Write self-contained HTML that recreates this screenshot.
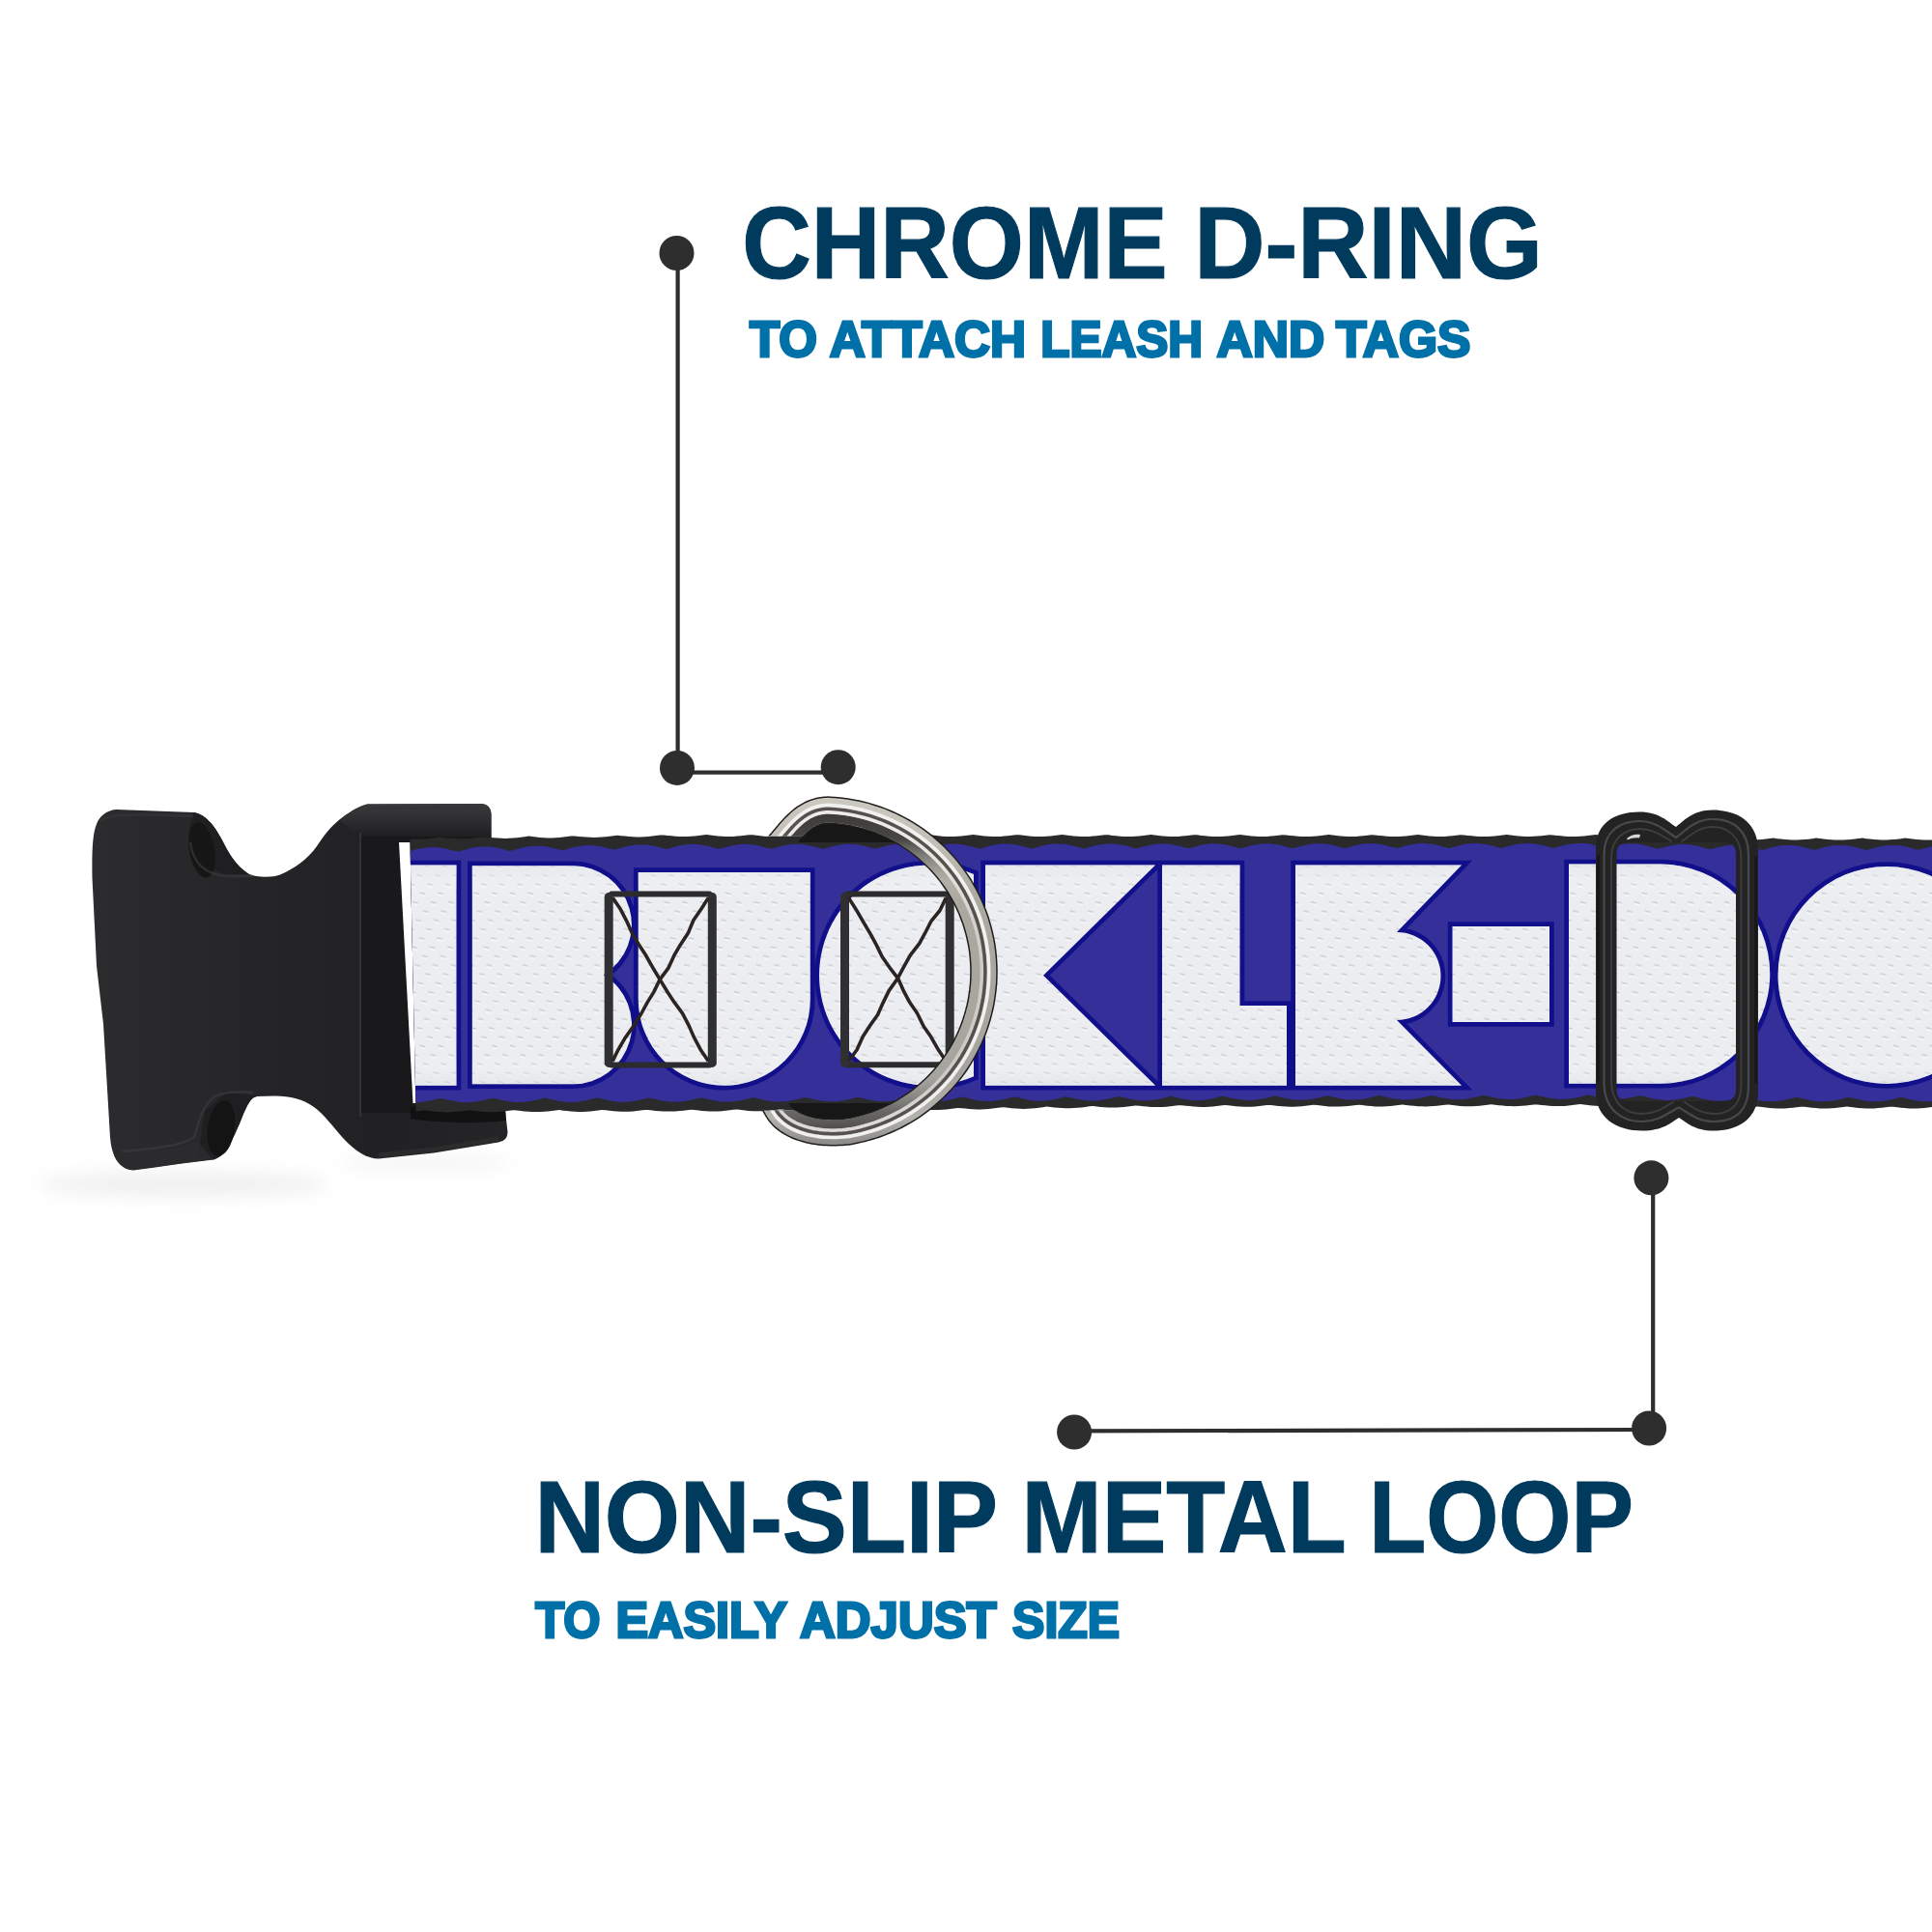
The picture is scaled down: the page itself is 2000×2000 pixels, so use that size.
<!DOCTYPE html>
<html><head><meta charset="utf-8"><title>Collar features</title>
<style>
html,body{margin:0;padding:0;background:#fff;}
body{width:2000px;height:2000px;overflow:hidden;font-family:"Liberation Sans",sans-serif;}
svg{display:block}
text{font-family:"Liberation Sans",sans-serif;font-weight:bold;}
</style></head><body>
<svg width="2000" height="2000" viewBox="0 0 2000 2000">
<defs>
<pattern id="tex" width="18.6" height="18.6" patternUnits="userSpaceOnUse" patternTransform="skewX(10)">
<rect width="18.6" height="18.6" fill="#ebedf0"/>
<path d="M2,3.5 l5.5,1.3 M11.3,12.8 l5.5,1.3" stroke="#c6c8cd" stroke-width="1.3" fill="none"/>
<path d="M2,5.8 l5.5,1.3 M11.3,15.1 l5.5,1.3" stroke="#f6f7f9" stroke-width="1.6" fill="none"/>
</pattern>
<clipPath id="lettersclip"><path d="M415,895.5 H472.5 V1123.8 H415 Z M488.8,896.2 H593 A61.0,61.0 0 0 1 624.8,1009.2 A61.0,61.0 0 0 1 593,1122.3 H488.8 Z M660.7,903 H838.8 V1034.8 A89,89 0 0 1 660.7,1034.8 Z M1008,905.1 A114.14999999999998,114.14999999999998 0 1 0 1008,1114.2 Z M1020,895.5 H1196 L1080,1009.65 L1196,1123.8 H1020 Z M1203,895.5 H1283.5 V1041 H1332 V1123.8 H1203 Z M1341,895.5 H1513 L1446,965 A45.5,45.5 0 0 1 1446,1056 L1513,1123.8 H1341 Z M1503.5,959 H1604 V1058 H1503.5 Z M1624,894.5 H1718.7 A113.64999999999998,113.64999999999998 0 0 1 1718.7,1121.8 H1624 Z M1953,897.0 A112.5,112.5 0 1 0 1953,1122.0 A112.5,112.5 0 1 0 1953,897.0 Z"/></clipPath>
<clipPath id="strapleft"><path d="M424,850 L2000,850 L2000,1170 L431,1170 Z"/></clipPath>
<clipPath id="ringclip"><path d="M700,700 H1100 V1300 H700 V1149.5 H868 V865.5 H700 Z"/></clipPath>
<linearGradient id="fabshade" x1="0" y1="0" x2="0" y2="1">
<stop offset="0" stop-color="#dfe3e8" stop-opacity=".55"/><stop offset=".15" stop-color="#fff" stop-opacity="0"/>
<stop offset=".85" stop-color="#fff" stop-opacity="0"/><stop offset="1" stop-color="#d8dce2" stop-opacity=".5"/>
</linearGradient>
<linearGradient id="ringg" gradientUnits="userSpaceOnUse" x1="0" y1="826" x2="0" y2="1186">
<stop offset="0" stop-color="#ccc9c0"/><stop offset=".14" stop-color="#c0bdb4"/><stop offset=".3" stop-color="#aba8a0"/>
<stop offset=".8" stop-color="#a6a49e"/><stop offset=".92" stop-color="#b4b2ad"/><stop offset="1" stop-color="#8a8885"/>
</linearGradient>
<linearGradient id="ringin" gradientUnits="userSpaceOnUse" x1="0" y1="826" x2="0" y2="1186">
<stop offset="0" stop-color="#2e2d2c" stop-opacity=".95"/><stop offset=".12" stop-color="#3a3938" stop-opacity=".9"/><stop offset=".24" stop-color="#6a6865" stop-opacity="0"/>
<stop offset=".8" stop-color="#6a6865" stop-opacity="0"/><stop offset=".9" stop-color="#4a4947" stop-opacity=".7"/><stop offset="1" stop-color="#2e2d2c" stop-opacity=".9"/>
</linearGradient>
<linearGradient id="ringl" gradientUnits="userSpaceOnUse" x1="0" y1="826" x2="0" y2="1186">
<stop offset="0" stop-color="#efeeea"/><stop offset=".2" stop-color="#e4e3df"/><stop offset=".4" stop-color="#cfcdc8"/>
<stop offset=".8" stop-color="#cccac6"/><stop offset="1" stop-color="#e2e1de"/>
</linearGradient>
<filter id="blur6" x="-20%" y="-80%" width="140%" height="260%"><feGaussianBlur stdDeviation="9"/></filter>
<filter id="blur3" x="-20%" y="-20%" width="140%" height="140%"><feGaussianBlur stdDeviation="3"/></filter>
<linearGradient id="topbar" x1="0" y1="0" x2="0" y2="1">
<stop offset="0" stop-color="#3a3a3c"/><stop offset=".5" stop-color="#2e2e30"/><stop offset="1" stop-color="#1f1f21"/>
</linearGradient>
<linearGradient id="bk" x1="0" y1="0" x2="1" y2="0">
<stop offset="0" stop-color="#2c2c2e"/><stop offset=".35" stop-color="#262628"/><stop offset=".7" stop-color="#212123"/><stop offset="1" stop-color="#252527"/>
</linearGradient>
</defs>
<rect width="2000" height="2000" fill="#fff"/>

<!-- headings -->
<text x="768.3" y="288.4" font-size="105.0" fill="#003a5d" stroke="#003a5d" stroke-width="1.2" stroke-linejoin="miter" stroke-miterlimit="2.5" textLength="440.15" lengthAdjust="spacingAndGlyphs">CHROME</text>
<text x="1236.2" y="288.4" font-size="105.0" fill="#003a5d" stroke="#003a5d" stroke-width="1.2" stroke-linejoin="miter" stroke-miterlimit="2.5" textLength="360.64" lengthAdjust="spacingAndGlyphs">D-RING</text>
<text x="776.0" y="369.0" font-size="51.4" fill="#0070a8" stroke="#0070a8" stroke-width="2.8" stroke-linejoin="miter" stroke-miterlimit="2.5" textLength="70.03" lengthAdjust="spacingAndGlyphs">TO</text>
<text x="858.8" y="369.0" font-size="51.4" fill="#0070a8" stroke="#0070a8" stroke-width="2.8" stroke-linejoin="miter" stroke-miterlimit="2.5" textLength="203.2" lengthAdjust="spacingAndGlyphs">ATTACH</text>
<text x="1077.2" y="369.0" font-size="51.4" fill="#0070a8" stroke="#0070a8" stroke-width="2.8" stroke-linejoin="miter" stroke-miterlimit="2.5" textLength="167.92" lengthAdjust="spacingAndGlyphs">LEASH</text>
<text x="1259.6" y="369.0" font-size="51.4" fill="#0070a8" stroke="#0070a8" stroke-width="2.8" stroke-linejoin="miter" stroke-miterlimit="2.5" textLength="111.76" lengthAdjust="spacingAndGlyphs">AND</text>
<text x="1383.0" y="369.0" font-size="51.4" fill="#0070a8" stroke="#0070a8" stroke-width="2.8" stroke-linejoin="miter" stroke-miterlimit="2.5" textLength="139.36" lengthAdjust="spacingAndGlyphs">TAGS</text>
<text x="553.4" y="1607.1" font-size="105.0" fill="#003a5d" stroke="#003a5d" stroke-width="1.2" stroke-linejoin="miter" stroke-miterlimit="2.5" textLength="479.45" lengthAdjust="spacingAndGlyphs">NON-SLIP</text>
<text x="1057.5" y="1607.1" font-size="105.0" fill="#003a5d" stroke="#003a5d" stroke-width="1.2" stroke-linejoin="miter" stroke-miterlimit="2.5" textLength="336.32" lengthAdjust="spacingAndGlyphs">METAL</text>
<text x="1417.2" y="1607.1" font-size="105.0" fill="#003a5d" stroke="#003a5d" stroke-width="1.2" stroke-linejoin="miter" stroke-miterlimit="2.5" textLength="273.75" lengthAdjust="spacingAndGlyphs">LOOP</text>
<text x="554.2" y="1694.8" font-size="51.4" fill="#0070a8" stroke="#0070a8" stroke-width="2.8" stroke-linejoin="miter" stroke-miterlimit="2.5" textLength="67.34" lengthAdjust="spacingAndGlyphs">TO</text>
<text x="637.4" y="1694.8" font-size="51.4" fill="#0070a8" stroke="#0070a8" stroke-width="2.8" stroke-linejoin="miter" stroke-miterlimit="2.5" textLength="177.42" lengthAdjust="spacingAndGlyphs">EASILY</text>
<text x="828.1" y="1694.8" font-size="51.4" fill="#0070a8" stroke="#0070a8" stroke-width="2.8" stroke-linejoin="miter" stroke-miterlimit="2.5" textLength="203.57" lengthAdjust="spacingAndGlyphs">ADJUST</text>
<text x="1048.1" y="1694.8" font-size="51.4" fill="#0070a8" stroke="#0070a8" stroke-width="2.8" stroke-linejoin="miter" stroke-miterlimit="2.5" textLength="110.95" lengthAdjust="spacingAndGlyphs">SIZE</text>

<!-- callout lines -->
<g fill="#2e2e2e" stroke="#2e2e2e" stroke-width="4.2">
<path d="M701.6,262 V795 M701,799.6 H868" fill="none"/>
<circle cx="700.5" cy="262" r="18" stroke="none"/>
<circle cx="701" cy="794.9" r="18" stroke="none"/>
<circle cx="867.7" cy="794.2" r="18" stroke="none"/>
<path d="M1711.2,1219 V1478 M1707,1480 L1112,1481.4" fill="none"/>
<circle cx="1709.4" cy="1219.3" r="18" stroke="none"/>
<circle cx="1707.1" cy="1478.5" r="18" stroke="none"/>
<circle cx="1112.1" cy="1482.5" r="18" stroke="none"/>
</g>

<!-- soft shadow under buckle -->
<ellipse cx="190" cy="1226" rx="150" ry="13" fill="#8a8a8a" opacity=".13" filter="url(#blur6)"/>
<ellipse cx="440" cy="1204" rx="90" ry="7" fill="#8a8a8a" opacity=".10" filter="url(#blur6)"/>

<!-- buckle -->
<g id="buckle">
<path d="M120,838 L201,841 C213,843 222,855 229,868 C238,886 246,898 258,905 C266,908.5 282,908.5 290,905.5 C305,899 318,890 328,876 C340,858 352,843 380,832.5 L497,832 Q508.5,832 508.5,844 L508.5,870 L523,1150 L525.5,1172 Q525.5,1181 516,1182.5 L449,1193.5 L392,1199.5 C380,1199.5 368,1192 355,1178 C346,1168 335,1153 325,1146 C314,1138 300,1134.5 285,1134.5 L266,1135 C260,1136 257,1142 252,1153 C247,1166 240,1182 234,1190 C230,1196 226,1199 221,1200.5 L188,1204.5 L157,1209 L138,1211.5 C128,1211.5 120,1203 117,1193 C115,1187 114,1180 113.5,1169 L107,1060 L100,1000 L95.5,909 C95,880 96,862 100,853 C103,845 110,839 120,838 Z" fill="url(#bk)"/>
<path d="M380,832.5 L497,832 Q508.5,832 508.5,844 L508.5,866 L373,866 L352,850 C360,841 370,835 380,832.5 Z" fill="url(#topbar)"/>
<!-- recessed inner face of frame -->
<path d="M373,866 L508.5,866 L523,1152 L373,1152 Z" fill="#19191b"/>
<path d="M373,862 V1156" stroke="#38383a" stroke-width="2" fill="none" opacity=".8"/>
<path d="M413,872 L424.5,872 L430.5,1142 L427.5,1142 Z" fill="#fff"/>
<!-- shadow of strap on bottom bar -->
<path d="M425,1146 H523 L524,1160 C490,1164 450,1162 425,1158 Z" fill="#0e0e0f" opacity=".8"/>
<!-- top notch hole and wall -->
<path d="M201,841 C213,843 222,855 229,868 C238,886 246,898 258,905 L236,905 C214,903 198,880 196,856 Z" fill="#1f1f21"/>
<ellipse cx="209" cy="880" rx="13" ry="29" transform="rotate(-10 209 880)" fill="#161617"/>
<path d="M197,872 C199,892 212,906 236,907 L262,907" stroke="#39393b" stroke-width="2.5" fill="none" opacity=".7"/>
<!-- bottom notch hole -->
<path d="M266,1135 C260,1136 257,1142 252,1153 C247,1166 240,1182 234,1190 C230,1196 226,1199 221,1200.5 L205,1196 L212,1150 L235,1131 Z" fill="#1f1f21"/>
<ellipse cx="229" cy="1168" rx="14" ry="29" transform="rotate(8 229 1168)" fill="#141415"/>
<path d="M126,1192 C160,1189 190,1186 201,1177 C206,1160 210,1144 222,1135 C232,1130 250,1130 262,1131" stroke="#3a3a3c" stroke-width="2.5" fill="none" opacity=".75"/>
<!-- light faces -->
<path d="M126,1194 C160,1191 190,1188 203,1180 L221,1200 L138,1211 C128,1211 120,1203 118,1195 Z" fill="#2c2c2e" opacity=".8"/>
<path d="M104,850 C110,842 150,842 200,845" stroke="#353537" stroke-width="3" fill="none" opacity=".7"/>
<path d="M384,836.5 L498,836" stroke="#333335" stroke-width="3" fill="none" opacity=".7"/>
<path d="M392,1196 L449,1190 L516,1179" stroke="#2e2e30" stroke-width="5" fill="none" opacity=".8"/>
</g>

<!-- strap -->
<g clip-path="url(#strapleft)">
<path d="M415.0,867.8 L419.0,868.2 L423.0,868.6 L427.0,868.8 L431.0,868.8 L435.0,868.7 L439.0,868.5 L443.0,868.2 L447.0,867.7 L451.0,867.2 L455.0,866.6 L459.0,867.1 L463.0,867.5 L467.0,867.9 L471.0,868.2 L475.0,868.3 L479.0,868.3 L483.0,868.2 L487.0,867.9 L491.0,867.5 L495.1,866.9 L499.1,866.4 L503.1,866.4 L507.1,866.8 L511.1,867.3 L515.1,867.6 L519.1,867.8 L523.1,867.9 L527.1,867.8 L531.1,867.5 L535.1,867.2 L539.1,866.7 L543.1,866.2 L547.1,865.6 L551.1,866.1 L555.1,866.6 L559.1,867.0 L563.1,867.2 L567.1,867.4 L571.1,867.4 L575.1,867.2 L579.1,866.9 L583.1,866.5 L587.1,866.0 L591.1,865.4 L595.1,865.4 L599.1,865.9 L603.1,866.3 L607.1,866.6 L611.1,866.8 L615.1,866.9 L619.1,866.8 L623.1,866.6 L627.1,866.2 L631.1,865.7 L635.1,865.2 L639.1,864.7 L643.1,865.2 L647.1,865.6 L651.1,866.0 L655.2,866.3 L659.2,866.4 L663.2,866.4 L667.2,866.2 L671.2,865.9 L675.2,865.5 L679.2,865.0 L683.2,864.4 L687.2,864.4 L691.2,864.9 L695.2,865.3 L699.2,865.7 L703.2,865.9 L707.2,866.0 L711.2,866.0 L715.2,865.8 L719.2,865.4 L723.2,865.0 L727.2,864.5 L731.2,864.0 L735.2,864.6 L739.2,865.1 L743.2,865.5 L747.2,865.8 L751.2,866.0 L755.2,866.0 L759.2,865.9 L763.2,865.6 L767.2,865.2 L771.2,864.8 L775.2,864.2 L779.2,864.3 L783.2,864.8 L787.2,865.3 L791.2,865.7 L795.2,865.9 L799.2,866.0 L803.2,866.0 L807.2,865.8 L811.2,865.4 L815.3,865.0 L819.3,864.5 L823.3,864.0 L827.3,864.6 L831.3,865.1 L835.3,865.5 L839.3,865.8 L843.3,866.0 L847.3,866.0 L851.3,865.9 L855.3,865.6 L859.3,865.2 L863.3,864.8 L867.3,864.2 L871.3,864.3 L875.3,864.8 L879.3,865.3 L883.3,865.7 L887.3,865.9 L891.3,866.0 L895.3,865.9 L899.3,865.8 L903.3,865.4 L907.3,865.0 L911.3,864.5 L915.3,864.0 L919.3,864.6 L923.3,865.1 L927.3,865.5 L931.3,865.8 L935.3,866.0 L939.3,866.0 L943.3,865.9 L947.3,865.6 L951.3,865.2 L955.3,864.8 L959.3,864.2 L963.3,864.3 L967.3,864.8 L971.4,865.3 L975.4,865.7 L979.4,865.9 L983.4,866.0 L987.4,865.9 L991.4,865.8 L995.4,865.4 L999.4,865.0 L1003.4,864.5 L1007.4,864.1 L1011.4,864.6 L1015.4,865.1 L1019.4,865.5 L1023.4,865.8 L1027.4,866.0 L1031.4,866.0 L1035.4,865.9 L1039.4,865.6 L1043.4,865.2 L1047.4,864.7 L1051.4,864.2 L1055.4,864.3 L1059.4,864.8 L1063.4,865.3 L1067.4,865.7 L1071.4,865.9 L1075.4,866.0 L1079.4,865.9 L1083.4,865.7 L1087.4,865.4 L1091.4,865.0 L1095.4,864.5 L1099.4,864.1 L1103.4,864.6 L1107.4,865.1 L1111.4,865.5 L1115.4,865.8 L1119.4,866.0 L1123.4,866.0 L1127.4,865.9 L1131.5,865.6 L1135.5,865.2 L1139.5,864.7 L1143.5,864.2 L1147.5,864.3 L1151.5,864.9 L1155.5,865.3 L1159.5,865.7 L1163.5,865.9 L1167.5,866.0 L1171.5,865.9 L1175.5,865.7 L1179.5,865.4 L1183.5,865.0 L1187.5,864.5 L1191.5,864.1 L1195.5,864.6 L1199.5,865.1 L1203.5,865.5 L1207.5,865.8 L1211.5,866.0 L1215.5,866.0 L1219.5,865.9 L1223.5,865.6 L1227.5,865.2 L1231.5,864.7 L1235.5,864.2 L1239.5,864.3 L1243.5,864.9 L1247.5,865.3 L1251.5,865.7 L1255.5,865.9 L1259.5,866.0 L1263.5,865.9 L1267.5,865.7 L1271.5,865.4 L1275.5,865.0 L1279.5,864.5 L1283.5,864.1 L1287.6,864.6 L1291.6,865.1 L1295.6,865.5 L1299.6,865.8 L1303.6,866.0 L1307.6,866.0 L1311.6,865.9 L1315.6,865.6 L1319.6,865.2 L1323.6,864.7 L1327.6,864.2 L1331.6,864.4 L1335.6,864.9 L1339.6,865.3 L1343.6,865.7 L1347.6,865.9 L1351.6,866.0 L1355.6,865.9 L1359.6,865.7 L1363.6,865.4 L1367.6,865.0 L1371.6,864.5 L1375.6,864.1 L1379.6,864.6 L1383.6,865.1 L1387.6,865.5 L1391.6,865.8 L1395.6,866.0 L1399.6,866.0 L1403.6,865.9 L1407.6,865.6 L1411.6,865.2 L1415.6,864.7 L1419.6,864.2 L1423.6,864.4 L1427.6,864.9 L1431.6,865.3 L1435.6,865.7 L1439.6,865.9 L1443.6,866.0 L1447.7,865.9 L1451.7,865.7 L1455.7,865.4 L1459.7,865.0 L1463.7,864.5 L1467.7,864.1 L1471.7,864.6 L1475.7,865.1 L1479.7,865.5 L1483.7,865.8 L1487.7,866.0 L1491.7,866.0 L1495.7,865.9 L1499.7,865.6 L1503.7,865.2 L1507.7,864.7 L1511.7,864.2 L1515.7,864.4 L1519.7,864.9 L1523.7,865.3 L1527.7,865.7 L1531.7,865.9 L1535.7,866.0 L1539.7,865.9 L1543.7,865.7 L1547.7,865.4 L1551.7,865.0 L1555.7,864.4 L1559.7,864.1 L1563.7,864.6 L1567.7,865.1 L1571.7,865.5 L1575.7,865.8 L1579.7,866.0 L1583.7,866.0 L1587.7,865.8 L1591.7,865.6 L1595.7,865.2 L1599.7,864.7 L1603.8,864.2 L1607.8,864.4 L1611.8,864.9 L1615.8,865.3 L1619.8,865.7 L1623.8,865.9 L1627.8,866.0 L1631.8,865.9 L1635.8,865.7 L1639.8,865.4 L1643.8,864.9 L1647.8,864.4 L1651.8,864.1 L1655.8,864.7 L1659.8,865.2 L1663.8,865.7 L1667.8,866.0 L1671.8,866.2 L1675.8,866.3 L1679.8,866.2 L1683.8,866.0 L1687.8,865.6 L1691.8,865.2 L1695.8,864.7 L1699.8,865.0 L1703.8,865.5 L1707.8,866.0 L1711.8,866.4 L1715.8,866.7 L1719.8,866.8 L1723.8,866.8 L1727.8,866.6 L1731.8,866.3 L1735.8,866.0 L1739.8,865.6 L1743.8,865.4 L1747.8,866.0 L1751.8,866.6 L1755.8,867.2 L1759.8,867.6 L1763.9,867.8 L1767.9,868.0 L1771.9,867.9 L1775.9,867.8 L1779.9,867.5 L1783.9,867.1 L1787.9,866.7 L1791.9,867.1 L1795.9,867.7 L1799.9,868.3 L1803.9,868.7 L1807.9,869.1 L1811.9,869.3 L1815.9,869.3 L1819.9,869.2 L1823.9,868.9 L1827.9,868.4 L1831.9,867.9 L1835.9,867.6 L1839.9,868.2 L1843.9,868.6 L1847.9,869.0 L1851.9,869.3 L1855.9,869.5 L1859.9,869.5 L1863.9,869.3 L1867.9,869.1 L1871.9,868.7 L1875.9,868.2 L1879.9,867.6 L1883.9,867.9 L1887.9,868.4 L1891.9,868.9 L1895.9,869.2 L1899.9,869.4 L1903.9,869.5 L1907.9,869.4 L1911.9,869.2 L1915.9,868.9 L1919.9,868.4 L1924.0,867.9 L1928.0,867.6 L1932.0,868.2 L1936.0,868.6 L1940.0,869.0 L1944.0,869.3 L1948.0,869.5 L1952.0,869.5 L1956.0,869.3 L1960.0,869.1 L1964.0,868.7 L1968.0,868.2 L1972.0,867.6 L1976.0,867.9 L1980.0,868.4 L1984.0,868.9 L1988.0,869.2 L1992.0,869.4 L1996.0,869.5 L2000.0,869.4 L2000.0,1146.0 L1996.0,1146.5 L1992.0,1147.0 L1988.0,1147.3 L1984.0,1147.5 L1980.0,1147.5 L1976.0,1147.4 L1972.0,1147.1 L1968.0,1146.8 L1964.0,1146.3 L1960.0,1145.8 L1956.0,1145.8 L1952.0,1146.3 L1948.0,1146.8 L1944.0,1147.1 L1940.0,1147.4 L1936.0,1147.5 L1932.0,1147.5 L1928.0,1147.3 L1924.0,1147.0 L1919.9,1146.5 L1915.9,1146.0 L1911.9,1145.5 L1907.9,1146.0 L1903.9,1146.5 L1899.9,1147.0 L1895.9,1147.3 L1891.9,1147.5 L1887.9,1147.5 L1883.9,1147.4 L1879.9,1147.1 L1875.9,1146.8 L1871.9,1146.3 L1867.9,1145.8 L1863.9,1145.8 L1859.9,1146.3 L1855.9,1146.8 L1851.9,1147.1 L1847.9,1147.4 L1843.9,1147.5 L1839.9,1147.5 L1835.9,1147.3 L1831.9,1147.0 L1827.9,1146.5 L1823.9,1146.0 L1819.9,1145.5 L1815.9,1146.0 L1811.9,1146.4 L1807.9,1146.8 L1803.9,1147.0 L1799.9,1147.2 L1795.9,1147.1 L1791.9,1147.0 L1787.9,1146.7 L1783.9,1146.2 L1779.9,1145.7 L1775.9,1145.1 L1771.9,1145.1 L1767.9,1145.5 L1763.9,1146.0 L1759.8,1146.3 L1755.8,1146.4 L1751.8,1146.5 L1747.8,1146.4 L1743.8,1146.1 L1739.8,1145.8 L1735.8,1145.3 L1731.8,1144.7 L1727.8,1144.2 L1723.8,1144.6 L1719.8,1145.1 L1715.8,1145.4 L1711.8,1145.7 L1707.8,1145.8 L1703.8,1145.8 L1699.8,1145.6 L1695.8,1145.3 L1691.8,1144.9 L1687.8,1144.3 L1683.8,1143.7 L1679.8,1143.7 L1675.8,1144.2 L1671.8,1144.6 L1667.8,1144.9 L1663.8,1145.1 L1659.8,1145.1 L1655.8,1145.0 L1651.8,1144.8 L1647.8,1144.4 L1643.8,1144.0 L1639.8,1143.5 L1635.8,1143.1 L1631.8,1143.6 L1627.8,1144.1 L1623.8,1144.5 L1619.8,1144.9 L1615.8,1145.0 L1611.8,1145.1 L1607.8,1145.0 L1603.8,1144.7 L1599.7,1144.3 L1595.7,1143.9 L1591.7,1143.4 L1587.7,1143.4 L1583.7,1144.0 L1579.7,1144.4 L1575.7,1144.8 L1571.7,1145.1 L1567.7,1145.2 L1563.7,1145.1 L1559.7,1145.0 L1555.7,1144.6 L1551.7,1144.2 L1547.7,1143.7 L1543.7,1143.3 L1539.7,1143.8 L1535.7,1144.3 L1531.7,1144.8 L1527.7,1145.1 L1523.7,1145.2 L1519.7,1145.3 L1515.7,1145.2 L1511.7,1144.9 L1507.7,1144.5 L1503.7,1144.1 L1499.7,1143.6 L1495.7,1143.7 L1491.7,1144.2 L1487.7,1144.7 L1483.7,1145.0 L1479.7,1145.3 L1475.7,1145.4 L1471.7,1145.3 L1467.7,1145.2 L1463.7,1144.8 L1459.7,1144.4 L1455.7,1143.9 L1451.7,1143.5 L1447.7,1144.0 L1443.6,1144.5 L1439.6,1145.0 L1435.6,1145.3 L1431.6,1145.5 L1427.6,1145.5 L1423.6,1145.4 L1419.6,1145.1 L1415.6,1144.7 L1411.6,1144.3 L1407.6,1143.8 L1403.6,1143.9 L1399.6,1144.4 L1395.6,1144.9 L1391.6,1145.2 L1387.6,1145.5 L1383.6,1145.6 L1379.6,1145.5 L1375.6,1145.4 L1371.6,1145.0 L1367.6,1144.6 L1363.6,1144.1 L1359.6,1143.7 L1355.6,1144.2 L1351.6,1144.7 L1347.6,1145.2 L1343.6,1145.5 L1339.6,1145.7 L1335.6,1145.7 L1331.6,1145.6 L1327.6,1145.3 L1323.6,1144.9 L1319.6,1144.5 L1315.6,1144.0 L1311.6,1144.1 L1307.6,1144.6 L1303.6,1145.1 L1299.6,1145.4 L1295.6,1145.7 L1291.6,1145.8 L1287.6,1145.8 L1283.5,1145.6 L1279.5,1145.2 L1275.5,1144.8 L1271.5,1144.3 L1267.5,1143.9 L1263.5,1144.5 L1259.5,1145.0 L1255.5,1145.4 L1251.5,1145.7 L1247.5,1145.9 L1243.5,1145.9 L1239.5,1145.8 L1235.5,1145.5 L1231.5,1145.1 L1227.5,1144.7 L1223.5,1144.2 L1219.5,1144.3 L1215.5,1144.8 L1211.5,1145.3 L1207.5,1145.7 L1203.5,1145.9 L1199.5,1146.0 L1195.5,1146.0 L1191.5,1145.9 L1187.5,1145.6 L1183.5,1145.2 L1179.5,1144.7 L1175.5,1144.4 L1171.5,1145.0 L1167.5,1145.5 L1163.5,1146.0 L1159.5,1146.3 L1155.5,1146.6 L1151.5,1146.6 L1147.5,1146.6 L1143.5,1146.3 L1139.5,1146.0 L1135.5,1145.6 L1131.5,1145.1 L1127.4,1145.3 L1123.4,1145.9 L1119.4,1146.4 L1115.4,1146.8 L1111.4,1147.1 L1107.4,1147.2 L1103.4,1147.2 L1099.4,1147.1 L1095.4,1146.8 L1091.4,1146.4 L1087.4,1146.0 L1083.4,1145.6 L1079.4,1146.2 L1075.4,1146.8 L1071.4,1147.2 L1067.4,1147.6 L1063.4,1147.8 L1059.4,1147.9 L1055.4,1147.8 L1051.4,1147.6 L1047.4,1147.2 L1043.4,1146.8 L1039.4,1146.3 L1035.4,1146.5 L1031.4,1147.1 L1027.4,1147.6 L1023.4,1148.0 L1019.4,1148.3 L1015.4,1148.5 L1011.4,1148.5 L1007.4,1148.3 L1003.4,1148.0 L999.4,1147.6 L995.4,1147.2 L991.4,1146.9 L987.4,1147.5 L983.4,1148.0 L979.4,1148.5 L975.4,1148.8 L971.4,1149.0 L967.3,1149.1 L963.3,1149.0 L959.3,1148.8 L955.3,1148.5 L951.3,1148.0 L947.3,1147.6 L943.3,1147.8 L939.3,1148.4 L935.3,1148.9 L931.3,1149.3 L927.3,1149.5 L923.3,1149.7 L919.3,1149.7 L915.3,1149.5 L911.3,1149.2 L907.3,1148.9 L903.3,1148.4 L899.3,1148.1 L895.3,1148.6 L891.3,1149.1 L887.3,1149.6 L883.3,1149.9 L879.3,1150.0 L875.3,1150.1 L871.3,1149.9 L867.3,1149.7 L863.3,1149.3 L859.3,1148.8 L855.3,1148.3 L851.3,1148.5 L847.3,1149.0 L843.3,1149.5 L839.3,1149.9 L835.3,1150.1 L831.3,1150.2 L827.3,1150.2 L823.3,1150.0 L819.3,1149.6 L815.3,1149.2 L811.2,1148.7 L807.2,1148.4 L803.2,1148.9 L799.2,1149.4 L795.2,1149.9 L791.2,1150.2 L787.2,1150.3 L783.2,1150.3 L779.2,1150.2 L775.2,1150.0 L771.2,1149.6 L767.2,1149.1 L763.2,1148.6 L759.2,1148.8 L755.2,1149.3 L751.2,1149.8 L747.2,1150.2 L743.2,1150.4 L739.2,1150.5 L735.2,1150.4 L731.2,1150.2 L727.2,1149.9 L723.2,1149.5 L719.2,1149.0 L715.2,1148.7 L711.2,1149.2 L707.2,1149.7 L703.2,1150.1 L699.2,1150.4 L695.2,1150.6 L691.2,1150.6 L687.2,1150.5 L683.2,1150.2 L679.2,1149.9 L675.2,1149.4 L671.2,1148.9 L667.2,1149.1 L663.2,1149.6 L659.2,1150.1 L655.2,1150.5 L651.1,1150.7 L647.1,1150.8 L643.1,1150.7 L639.1,1150.5 L635.1,1150.2 L631.1,1149.8 L627.1,1149.3 L623.1,1149.0 L619.1,1149.5 L615.1,1150.0 L611.1,1150.4 L607.1,1150.7 L603.1,1150.9 L599.1,1150.9 L595.1,1150.8 L591.1,1150.5 L587.1,1150.1 L583.1,1149.7 L579.1,1149.1 L575.1,1149.4 L571.1,1149.9 L567.1,1150.4 L563.1,1150.7 L559.1,1151.0 L555.1,1151.1 L551.1,1151.0 L547.1,1150.8 L543.1,1150.5 L539.1,1150.0 L535.1,1149.5 L531.1,1149.3 L527.1,1149.8 L523.1,1150.3 L519.1,1150.7 L515.1,1151.0 L511.1,1151.2 L507.1,1151.2 L503.1,1151.1 L499.1,1150.8 L495.1,1150.4 L491.0,1149.9 L487.0,1149.4 L483.0,1149.7 L479.0,1150.2 L475.0,1150.7 L471.0,1151.0 L467.0,1151.3 L463.0,1151.4 L459.0,1151.3 L455.0,1151.1 L451.0,1150.8 L447.0,1150.3 L443.0,1149.8 L439.0,1149.6 L435.0,1150.1 L431.0,1150.6 L427.0,1151.0 L423.0,1151.3 L419.0,1151.5 L415.0,1151.5Z" fill="#2b2a2b"/>
<path d="M415.0,881.1 L419.0,882.2 L423.0,881.6 L427.0,880.4 L431.0,879.3 L435.0,878.4 L439.0,877.7 L443.0,877.2 L447.0,877.0 L451.0,877.1 L455.0,877.5 L459.0,878.1 L463.0,878.9 L467.0,879.9 L471.0,881.0 L475.0,881.5 L479.0,880.3 L483.0,879.2 L487.0,878.1 L491.0,877.3 L495.1,876.7 L499.1,876.4 L503.1,876.4 L507.1,876.6 L511.1,877.1 L515.1,877.8 L519.1,878.7 L523.1,879.8 L527.1,880.9 L531.1,880.2 L535.1,879.0 L539.1,878.0 L543.1,877.0 L547.1,876.3 L551.1,875.9 L555.1,875.7 L559.1,875.8 L563.1,876.1 L567.1,876.8 L571.1,877.6 L575.1,878.6 L579.1,879.7 L583.1,880.2 L587.1,879.0 L591.1,877.8 L595.1,876.8 L599.1,876.0 L603.1,875.4 L607.1,875.1 L611.1,875.0 L615.1,875.3 L619.1,875.8 L623.1,876.5 L627.1,877.4 L631.1,878.5 L635.1,879.6 L639.1,878.9 L643.1,877.7 L647.1,876.6 L651.1,875.7 L655.2,875.0 L659.2,874.5 L663.2,874.4 L667.2,874.5 L671.2,874.8 L675.2,875.5 L679.2,876.3 L683.2,877.3 L687.2,878.4 L691.2,878.9 L695.2,877.6 L699.2,876.5 L703.2,875.5 L707.2,874.7 L711.2,874.2 L715.2,873.9 L719.2,873.9 L723.2,874.2 L727.2,874.8 L731.2,875.5 L735.2,876.5 L739.2,877.6 L743.2,878.8 L747.2,878.1 L751.2,876.9 L755.2,875.9 L759.2,875.0 L763.2,874.4 L767.2,874.0 L771.2,873.8 L775.2,874.0 L779.2,874.4 L783.2,875.1 L787.2,876.0 L791.2,877.0 L795.2,878.2 L799.2,878.6 L803.2,877.4 L807.2,876.3 L811.2,875.4 L815.3,874.6 L819.3,874.1 L823.3,873.8 L827.3,873.8 L831.3,874.1 L835.3,874.7 L839.3,875.4 L843.3,876.4 L847.3,877.5 L851.3,878.7 L855.3,878.0 L859.3,876.8 L863.3,875.8 L867.3,874.9 L871.3,874.2 L875.3,873.8 L879.3,873.7 L883.3,873.9 L887.3,874.3 L891.3,875.0 L895.3,875.9 L899.3,876.9 L903.3,878.1 L907.3,878.5 L911.3,877.3 L915.3,876.2 L919.3,875.2 L923.3,874.5 L927.3,873.9 L931.3,873.7 L935.3,873.7 L939.3,874.0 L943.3,874.6 L947.3,875.3 L951.3,876.3 L955.3,877.4 L959.3,878.6 L963.3,877.8 L967.3,876.7 L971.4,875.6 L975.4,874.8 L979.4,874.1 L983.4,873.7 L987.4,873.6 L991.4,873.8 L995.4,874.2 L999.4,874.9 L1003.4,875.8 L1007.4,876.8 L1011.4,878.0 L1015.4,878.4 L1019.4,877.2 L1023.4,876.1 L1027.4,875.1 L1031.4,874.3 L1035.4,873.8 L1039.4,873.6 L1043.4,873.6 L1047.4,873.9 L1051.4,874.5 L1055.4,875.2 L1059.4,876.2 L1063.4,877.3 L1067.4,878.5 L1071.4,877.7 L1075.4,876.5 L1079.4,875.5 L1083.4,874.6 L1087.4,874.0 L1091.4,873.6 L1095.4,873.5 L1099.4,873.7 L1103.4,874.1 L1107.4,874.8 L1111.4,875.7 L1115.4,876.7 L1119.4,877.9 L1123.4,878.2 L1127.4,877.0 L1131.5,875.9 L1135.5,875.0 L1139.5,874.2 L1143.5,873.7 L1147.5,873.4 L1151.5,873.5 L1155.5,873.8 L1159.5,874.4 L1163.5,875.1 L1167.5,876.1 L1171.5,877.3 L1175.5,878.4 L1179.5,877.5 L1183.5,876.4 L1187.5,875.4 L1191.5,874.5 L1195.5,873.9 L1199.5,873.5 L1203.5,873.4 L1207.5,873.5 L1211.5,874.0 L1215.5,874.7 L1219.5,875.6 L1223.5,876.6 L1227.5,877.8 L1231.5,878.1 L1235.5,876.9 L1239.5,875.8 L1243.5,874.8 L1247.5,874.1 L1251.5,873.6 L1255.5,873.3 L1259.5,873.4 L1263.5,873.7 L1267.5,874.2 L1271.5,875.1 L1275.5,876.0 L1279.5,877.2 L1283.5,878.3 L1287.6,877.4 L1291.6,876.3 L1295.6,875.2 L1299.6,874.4 L1303.6,873.7 L1307.6,873.4 L1311.6,873.3 L1315.6,873.4 L1319.6,873.9 L1323.6,874.6 L1327.6,875.5 L1331.6,876.5 L1335.6,877.7 L1339.6,877.9 L1343.6,876.8 L1347.6,875.7 L1351.6,874.7 L1355.6,874.0 L1359.6,873.5 L1363.6,873.2 L1367.6,873.3 L1371.6,873.6 L1375.6,874.1 L1379.6,875.0 L1383.6,875.9 L1387.6,877.1 L1391.6,878.3 L1395.6,877.3 L1399.6,876.1 L1403.6,875.1 L1407.6,874.3 L1411.6,873.6 L1415.6,873.2 L1419.6,873.1 L1423.6,873.3 L1427.6,873.8 L1431.6,874.5 L1435.6,875.4 L1439.6,876.4 L1443.6,877.6 L1447.7,877.8 L1451.7,876.6 L1455.7,875.5 L1459.7,874.6 L1463.7,873.8 L1467.7,873.3 L1471.7,873.1 L1475.7,873.1 L1479.7,873.5 L1483.7,874.0 L1487.7,874.9 L1491.7,875.8 L1495.7,877.0 L1499.7,878.2 L1503.7,877.1 L1507.7,876.0 L1511.7,875.0 L1515.7,874.1 L1519.7,873.5 L1523.7,873.1 L1527.7,873.0 L1531.7,873.2 L1535.7,873.7 L1539.7,874.4 L1543.7,875.3 L1547.7,876.3 L1551.7,877.5 L1555.7,877.7 L1559.7,876.5 L1563.7,875.4 L1567.7,874.5 L1571.7,873.7 L1575.7,873.2 L1579.7,873.0 L1583.7,873.0 L1587.7,873.4 L1591.7,873.9 L1595.7,874.8 L1599.7,875.8 L1603.8,876.9 L1607.8,878.1 L1611.8,877.0 L1615.8,875.9 L1619.8,874.8 L1623.8,874.0 L1627.8,873.4 L1631.8,873.0 L1635.8,872.9 L1639.8,873.1 L1643.8,873.6 L1647.8,874.3 L1651.8,875.2 L1655.8,876.3 L1659.8,877.5 L1663.8,877.7 L1667.8,876.6 L1671.8,875.6 L1675.8,874.7 L1679.8,874.0 L1683.8,873.5 L1687.8,873.4 L1691.8,873.5 L1695.8,873.8 L1699.8,874.5 L1703.8,875.3 L1707.8,876.4 L1711.8,877.6 L1715.8,878.8 L1719.8,877.8 L1723.8,876.7 L1727.8,875.7 L1731.8,874.9 L1735.8,874.4 L1739.8,874.0 L1743.8,874.0 L1747.8,874.3 L1751.8,874.8 L1755.8,875.5 L1759.8,876.5 L1763.9,877.6 L1767.9,878.8 L1771.9,879.0 L1775.9,877.8 L1779.9,876.8 L1783.9,875.9 L1787.9,875.2 L1791.9,874.8 L1795.9,874.6 L1799.9,874.7 L1803.9,875.1 L1807.9,875.8 L1811.9,876.6 L1815.9,877.7 L1819.9,878.9 L1823.9,880.1 L1827.9,878.9 L1831.9,877.8 L1835.9,876.8 L1839.9,875.9 L1843.9,875.3 L1847.9,875.0 L1851.9,874.9 L1855.9,875.1 L1859.9,875.6 L1863.9,876.3 L1867.9,877.2 L1871.9,878.3 L1875.9,879.5 L1879.9,879.5 L1883.9,878.3 L1887.9,877.3 L1891.9,876.3 L1895.9,875.6 L1899.9,875.1 L1903.9,874.9 L1907.9,875.0 L1911.9,875.3 L1915.9,875.9 L1919.9,876.7 L1924.0,877.8 L1928.0,878.9 L1932.0,880.1 L1936.0,878.9 L1940.0,877.8 L1944.0,876.8 L1948.0,875.9 L1952.0,875.3 L1956.0,875.0 L1960.0,874.9 L1964.0,875.1 L1968.0,875.6 L1972.0,876.3 L1976.0,877.2 L1980.0,878.3 L1984.0,879.5 L1988.0,879.5 L1992.0,878.3 L1996.0,877.2 L2000.0,876.3 L2000.0,1140.1 L1996.0,1140.3 L1992.0,1140.2 L1988.0,1139.9 L1984.0,1139.4 L1980.0,1138.7 L1976.0,1137.8 L1972.0,1136.8 L1968.0,1135.7 L1964.0,1136.8 L1960.0,1137.8 L1956.0,1138.7 L1952.0,1139.4 L1948.0,1139.9 L1944.0,1140.2 L1940.0,1140.3 L1936.0,1140.1 L1932.0,1139.7 L1928.0,1139.0 L1924.0,1138.2 L1919.9,1137.3 L1915.9,1136.2 L1911.9,1136.2 L1907.9,1137.3 L1903.9,1138.2 L1899.9,1139.1 L1895.9,1139.7 L1891.9,1140.1 L1887.9,1140.3 L1883.9,1140.2 L1879.9,1139.9 L1875.9,1139.4 L1871.9,1138.6 L1867.9,1137.7 L1863.9,1136.7 L1859.9,1135.7 L1855.9,1136.8 L1851.9,1137.8 L1847.9,1138.7 L1843.9,1139.4 L1839.9,1139.9 L1835.9,1140.2 L1831.9,1140.3 L1827.9,1140.1 L1823.9,1139.7 L1819.9,1139.0 L1815.9,1138.1 L1811.9,1137.1 L1807.9,1136.0 L1803.9,1136.0 L1799.9,1137.0 L1795.9,1137.9 L1791.9,1138.7 L1787.9,1139.2 L1783.9,1139.6 L1779.9,1139.7 L1775.9,1139.6 L1771.9,1139.2 L1767.9,1138.6 L1763.9,1137.8 L1759.8,1136.8 L1755.8,1135.8 L1751.8,1134.7 L1747.8,1135.7 L1743.8,1136.7 L1739.8,1137.5 L1735.8,1138.2 L1731.8,1138.6 L1727.8,1138.9 L1723.8,1138.9 L1719.8,1138.6 L1715.8,1138.1 L1711.8,1137.4 L1707.8,1136.5 L1703.8,1135.5 L1699.8,1134.4 L1695.8,1134.5 L1691.8,1135.4 L1687.8,1136.3 L1683.8,1137.1 L1679.8,1137.6 L1675.8,1138.0 L1671.8,1138.1 L1667.8,1138.0 L1663.8,1137.6 L1659.8,1137.0 L1655.8,1136.2 L1651.8,1135.2 L1647.8,1134.2 L1643.8,1133.3 L1639.8,1134.4 L1635.8,1135.4 L1631.8,1136.3 L1627.8,1137.0 L1623.8,1137.5 L1619.8,1137.8 L1615.8,1137.9 L1611.8,1137.7 L1607.8,1137.3 L1603.8,1136.7 L1599.7,1135.8 L1595.7,1134.9 L1591.7,1133.9 L1587.7,1134.0 L1583.7,1135.1 L1579.7,1136.0 L1575.7,1136.8 L1571.7,1137.5 L1567.7,1137.9 L1563.7,1138.1 L1559.7,1138.0 L1555.7,1137.7 L1551.7,1137.2 L1547.7,1136.4 L1543.7,1135.5 L1539.7,1134.6 L1535.7,1133.7 L1531.7,1134.7 L1527.7,1135.7 L1523.7,1136.6 L1519.7,1137.4 L1515.7,1137.9 L1511.7,1138.2 L1507.7,1138.3 L1503.7,1138.1 L1499.7,1137.6 L1495.7,1137.0 L1491.7,1136.2 L1487.7,1135.2 L1483.7,1134.2 L1479.7,1134.4 L1475.7,1135.4 L1471.7,1136.4 L1467.7,1137.2 L1463.7,1137.8 L1459.7,1138.3 L1455.7,1138.4 L1451.7,1138.4 L1447.7,1138.1 L1443.6,1137.5 L1439.6,1136.8 L1435.6,1135.9 L1431.6,1134.9 L1427.6,1134.0 L1423.6,1135.1 L1419.6,1136.1 L1415.6,1137.0 L1411.6,1137.7 L1407.6,1138.3 L1403.6,1138.6 L1399.6,1138.6 L1395.6,1138.4 L1391.6,1138.0 L1387.6,1137.3 L1383.6,1136.5 L1379.6,1135.6 L1375.6,1134.5 L1371.6,1134.8 L1367.6,1135.8 L1363.6,1136.8 L1359.6,1137.6 L1355.6,1138.2 L1351.6,1138.6 L1347.6,1138.8 L1343.6,1138.7 L1339.6,1138.4 L1335.6,1137.9 L1331.6,1137.1 L1327.6,1136.2 L1323.6,1135.2 L1319.6,1134.4 L1315.6,1135.5 L1311.6,1136.5 L1307.6,1137.4 L1303.6,1138.1 L1299.6,1138.6 L1295.6,1138.9 L1291.6,1139.0 L1287.6,1138.8 L1283.5,1138.3 L1279.5,1137.7 L1275.5,1136.9 L1271.5,1135.9 L1267.5,1134.9 L1263.5,1135.1 L1259.5,1136.2 L1255.5,1137.1 L1251.5,1138.0 L1247.5,1138.6 L1243.5,1139.0 L1239.5,1139.2 L1235.5,1139.1 L1231.5,1138.8 L1227.5,1138.2 L1223.5,1137.5 L1219.5,1136.6 L1215.5,1135.6 L1211.5,1134.8 L1207.5,1135.9 L1203.5,1136.9 L1199.5,1137.8 L1195.5,1138.5 L1191.5,1139.0 L1187.5,1139.3 L1183.5,1139.3 L1179.5,1139.1 L1175.5,1138.7 L1171.5,1138.0 L1167.5,1137.2 L1163.5,1136.3 L1159.5,1135.2 L1155.5,1135.5 L1151.5,1136.6 L1147.5,1137.5 L1143.5,1138.3 L1139.5,1139.0 L1135.5,1139.4 L1131.5,1139.5 L1127.4,1139.4 L1123.4,1139.1 L1119.4,1138.6 L1115.4,1137.8 L1111.4,1136.9 L1107.4,1135.9 L1103.4,1135.2 L1099.4,1136.2 L1095.4,1137.2 L1091.4,1138.1 L1087.4,1138.9 L1083.4,1139.4 L1079.4,1139.7 L1075.4,1139.7 L1071.4,1139.5 L1067.4,1139.0 L1063.4,1138.4 L1059.4,1137.6 L1055.4,1136.6 L1051.4,1135.6 L1047.4,1135.9 L1043.4,1136.9 L1039.4,1137.9 L1035.4,1138.7 L1031.4,1139.3 L1027.4,1139.7 L1023.4,1139.9 L1019.4,1139.8 L1015.4,1139.5 L1011.4,1138.9 L1007.4,1138.2 L1003.4,1137.3 L999.4,1136.3 L995.4,1135.6 L991.4,1136.6 L987.4,1137.6 L983.4,1138.5 L979.4,1139.2 L975.4,1139.7 L971.4,1140.0 L967.3,1140.1 L963.3,1139.8 L959.3,1139.4 L955.3,1138.7 L951.3,1137.9 L947.3,1136.9 L943.3,1135.9 L939.3,1136.3 L935.3,1137.3 L931.3,1138.3 L927.3,1139.1 L923.3,1139.7 L919.3,1140.1 L915.3,1140.2 L911.3,1140.2 L907.3,1139.8 L903.3,1139.3 L899.3,1138.5 L895.3,1137.6 L891.3,1136.6 L887.3,1135.9 L883.3,1137.0 L879.3,1138.0 L875.3,1138.9 L871.3,1139.6 L867.3,1140.1 L863.3,1140.3 L859.3,1140.4 L855.3,1140.1 L851.3,1139.7 L847.3,1139.0 L843.3,1138.2 L839.3,1137.2 L835.3,1136.2 L831.3,1136.6 L827.3,1137.6 L823.3,1138.5 L819.3,1139.3 L815.3,1140.0 L811.2,1140.3 L807.2,1140.5 L803.2,1140.4 L799.2,1140.0 L795.2,1139.5 L791.2,1138.7 L787.2,1137.8 L783.2,1136.8 L779.2,1136.2 L775.2,1137.2 L771.2,1138.2 L767.2,1139.1 L763.2,1139.8 L759.2,1140.3 L755.2,1140.6 L751.2,1140.6 L747.2,1140.4 L743.2,1139.9 L739.2,1139.2 L735.2,1138.4 L731.2,1137.4 L727.2,1136.4 L723.2,1136.8 L719.2,1137.8 L715.2,1138.8 L711.2,1139.6 L707.2,1140.2 L703.2,1140.6 L699.2,1140.7 L695.2,1140.6 L691.2,1140.3 L687.2,1139.7 L683.2,1138.9 L679.2,1138.0 L675.2,1137.0 L671.2,1136.4 L667.2,1137.5 L663.2,1138.5 L659.2,1139.3 L655.2,1140.0 L651.1,1140.5 L647.1,1140.8 L643.1,1140.8 L639.1,1140.6 L635.1,1140.1 L631.1,1139.4 L627.1,1138.6 L623.1,1137.6 L619.1,1136.6 L615.1,1137.1 L611.1,1138.1 L607.1,1139.0 L603.1,1139.8 L599.1,1140.4 L595.1,1140.8 L591.1,1140.9 L587.1,1140.8 L583.1,1140.5 L579.1,1139.9 L575.1,1139.1 L571.1,1138.2 L567.1,1137.2 L563.1,1136.6 L559.1,1137.7 L555.1,1138.7 L551.1,1139.6 L547.1,1140.3 L543.1,1140.8 L539.1,1141.0 L535.1,1141.0 L531.1,1140.8 L527.1,1140.3 L523.1,1139.6 L519.1,1138.8 L515.1,1137.8 L511.1,1136.8 L507.1,1137.3 L503.1,1138.3 L499.1,1139.3 L495.1,1140.1 L491.0,1140.6 L487.0,1141.0 L483.0,1141.2 L479.0,1141.0 L475.0,1140.7 L471.0,1140.1 L467.0,1139.3 L463.0,1138.4 L459.0,1137.4 L455.0,1136.9 L451.0,1137.9 L447.0,1138.9 L443.0,1139.8 L439.0,1140.5 L435.0,1141.0 L431.0,1141.2 L427.0,1141.2 L423.0,1141.0 L419.0,1140.5 L415.0,1139.9Z" fill="#352f9a"/>
<path d="M415,895.5 H472.5 V1123.8 H415 Z M488.8,896.2 H593 A61.0,61.0 0 0 1 624.8,1009.2 A61.0,61.0 0 0 1 593,1122.3 H488.8 Z M660.7,903 H838.8 V1034.8 A89,89 0 0 1 660.7,1034.8 Z M1008,905.1 A114.14999999999998,114.14999999999998 0 1 0 1008,1114.2 Z M1020,895.5 H1196 L1080,1009.65 L1196,1123.8 H1020 Z M1203,895.5 H1283.5 V1041 H1332 V1123.8 H1203 Z M1341,895.5 H1513 L1446,965 A45.5,45.5 0 0 1 1446,1056 L1513,1123.8 H1341 Z M1503.5,959 H1604 V1058 H1503.5 Z M1624,894.5 H1718.7 A113.64999999999998,113.64999999999998 0 0 1 1718.7,1121.8 H1624 Z M1953,897.0 A112.5,112.5 0 1 0 1953,1122.0 A112.5,112.5 0 1 0 1953,897.0 Z" fill="none" stroke="#120f8b" stroke-width="9.5" stroke-linejoin="miter"/>
<path d="M415,895.5 H472.5 V1123.8 H415 Z M488.8,896.2 H593 A61.0,61.0 0 0 1 624.8,1009.2 A61.0,61.0 0 0 1 593,1122.3 H488.8 Z M660.7,903 H838.8 V1034.8 A89,89 0 0 1 660.7,1034.8 Z M1008,905.1 A114.14999999999998,114.14999999999998 0 1 0 1008,1114.2 Z M1020,895.5 H1196 L1080,1009.65 L1196,1123.8 H1020 Z M1203,895.5 H1283.5 V1041 H1332 V1123.8 H1203 Z M1341,895.5 H1513 L1446,965 A45.5,45.5 0 0 1 1446,1056 L1513,1123.8 H1341 Z M1503.5,959 H1604 V1058 H1503.5 Z M1624,894.5 H1718.7 A113.64999999999998,113.64999999999998 0 0 1 1718.7,1121.8 H1624 Z M1953,897.0 A112.5,112.5 0 1 0 1953,1122.0 A112.5,112.5 0 1 0 1953,897.0 Z" fill="url(#tex)"/>
<g clip-path="url(#lettersclip)"><rect x="415" y="893.5" width="1600" height="232.29999999999995" fill="url(#fabshade)"/></g>
<path d="M633.2,925.4 H734.3 M633.2,1102.4 H734.3" stroke="#2c2c2e" stroke-width="6" fill="none" stroke-linecap="round"/>
<path d="M630.2,928.4 V1100.4 M737.3,928.4 V1100.4" stroke="#303032" stroke-width="9" fill="none" stroke-linecap="round"/>
<path d="M634.2,929.4 L641.7,940.2 L648.5,953.1 L654.1,965.6 L661.1,977.5 L668.3,988.5 L676.4,1002.8 L682.6,1013.1 L691.2,1027.3 L698.1,1037.7 L706.4,1048.8 L713.1,1061.6 L718.1,1073.1 L725.6,1087.3 L733.3,1098.4 M733.3,929.4 L726.4,940.2 L717.8,952.7 L712.6,965.4 L704.4,977.9 L697.8,989.2 L691.7,1002.4 L683.0,1014.1 L676.7,1027.1 L670.3,1037.4 L664.0,1049.0 L655.2,1063.0 L647.3,1074.2 L639.9,1086.8 L634.2,1098.4" stroke="#2b2422" stroke-width="3.6" fill="none" stroke-linejoin="round"/>
<path d="M877.5,925.4 H980.2 M877.5,1102.2 H980.2" stroke="#2c2c2e" stroke-width="6" fill="none" stroke-linecap="round"/>
<path d="M874.5,928.4 V1100.2 M983.2,928.4 V1100.2" stroke="#303032" stroke-width="9" fill="none" stroke-linecap="round"/>
<path d="M878.5,929.4 L886.3,941.7 L893.1,953.4 L901.1,966.9 L907.2,978.1 L913.1,990.3 L922.1,1003.2 L929.8,1013.2 L935.7,1026.4 L941.8,1037.8 L949.4,1048.8 L956.3,1062.8 L963.7,1073.3 L971.7,1087.3 L979.2,1098.2 M979.2,929.4 L973.0,942.5 L964.1,953.3 L957.2,966.7 L951.8,976.6 L942.3,988.9 L935.2,1001.7 L929.1,1013.1 L920.2,1025.6 L914.1,1038.1 L908.6,1050.5 L900.1,1062.4 L893.4,1072.7 L886.9,1087.0 L878.5,1098.2" stroke="#2b2422" stroke-width="3.6" fill="none" stroke-linejoin="round"/>
</g>

<!-- d-ring -->

<path d="M826.9,870.3 L828.7,868.3 L830.4,866.3 L832.2,864.5 L833.9,862.8 L835.6,861.2 L837.2,859.8 L838.9,858.5 L840.5,857.3 L842.1,856.2 L843.7,855.3 L845.3,854.4 L846.9,853.7 L848.5,853.1 L850.2,852.6 L852.0,852.2 L853.9,851.9 L855.9,851.7 L857.6,851.6 L862.5,851.9 L867.5,852.4 L872.5,853.0 L877.4,853.8 L882.3,854.7 L887.2,855.8 L892.1,857.1 L896.9,858.5 L901.7,860.1 L906.4,861.8 L911.1,863.7 L915.7,865.7 L920.2,867.9 L924.6,870.2 L924.6,872.0 L826.9,872.0Z" fill="#171717"/>
<path d="M920.6,1144.0 L916.0,1146.1 L911.5,1148.2 L906.8,1150.1 L902.1,1151.8 L897.3,1153.4 L892.5,1154.8 L887.7,1156.1 L882.8,1157.2 L877.9,1158.1 L874.8,1158.6 L871.3,1158.9 L867.8,1159.1 L864.2,1159.3 L860.7,1159.3 L857.1,1159.2 L853.5,1158.9 L850.0,1158.6 L846.6,1158.1 L843.2,1157.5 L840.0,1156.7 L836.8,1155.9 L833.8,1154.9 L831.0,1153.8 L828.4,1152.6 L825.9,1151.3 L823.7,1149.9 L821.6,1148.4 L819.8,1146.8 L818.2,1145.2 L816.8,1143.5 L816.8,1142.0 L920.6,1142.0Z" fill="#171717"/>
<g fill="none" stroke-linecap="butt" stroke-linejoin="round" clip-path="url(#ringclip)">
<path d="M805.0,876.0 L807.1,873.5 L809.2,871.1 L811.2,868.7 L813.2,866.3 L815.1,864.0 L817.1,861.7 L819.0,859.5 L821.0,857.4 L822.9,855.4 L824.9,853.4 L826.9,851.6 L828.9,849.8 L830.9,848.2 L833.0,846.6 L835.2,845.2 L837.4,843.9 L839.6,842.7 L842.0,841.7 L844.4,840.8 L846.9,840.0 L849.5,839.4 L852.2,839.0 L855.1,838.7 L858.0,838.6 L863.4,839.0 L868.9,839.5 L874.3,840.1 L879.6,841.0 L885.0,842.0 L890.3,843.2 L895.6,844.5 L900.8,846.1 L906.0,847.8 L911.1,849.6 L916.1,851.7 L921.1,853.9 L926.0,856.2 L930.8,858.8 L935.6,861.4 L940.2,864.2 L944.8,867.2 L949.3,870.3 L953.6,873.6 L957.9,877.0 L962.0,880.6 L966.0,884.2 L969.9,888.0 L973.7,892.0 L977.3,896.0 L980.8,900.2 L984.2,904.4 L987.4,908.8 L990.5,913.3 L993.5,917.9 L996.2,922.6 L998.9,927.3 L1001.4,932.2 L1003.7,937.1 L1005.8,942.1 L1007.8,947.2 L1009.7,952.3 L1011.3,957.5 L1012.8,962.7 L1014.1,968.0 L1015.3,973.3 L1016.3,978.7 L1017.1,984.1 L1017.7,989.5 L1018.1,994.9 L1018.4,1000.3 L1018.5,1005.8 L1018.4,1011.2 L1018.2,1016.7 L1017.7,1022.1 L1017.1,1027.5 L1016.3,1032.9 L1015.4,1038.2 L1014.2,1043.6 L1012.9,1048.8 L1011.4,1054.1 L1009.8,1059.3 L1008.0,1064.4 L1006.0,1069.5 L1003.9,1074.5 L1001.6,1079.4 L999.1,1084.3 L996.5,1089.0 L993.7,1093.7 L990.8,1098.3 L987.7,1102.8 L984.5,1107.2 L981.1,1111.5 L977.6,1115.7 L974.0,1119.7 L970.2,1123.6 L966.3,1127.5 L962.3,1131.1 L958.2,1134.7 L954.0,1138.1 L949.6,1141.4 L945.2,1144.5 L940.6,1147.5 L936.0,1150.3 L931.2,1153.0 L926.4,1155.6 L921.5,1157.9 L916.5,1160.1 L911.5,1162.2 L906.4,1164.1 L901.2,1165.8 L896.0,1167.3 L890.7,1168.7 L885.4,1169.9 L880.1,1171.0 L876.3,1171.5 L872.4,1171.9 L868.5,1172.1 L864.5,1172.3 L860.5,1172.3 L856.5,1172.1 L852.4,1171.9 L848.5,1171.5 L844.5,1170.9 L840.6,1170.2 L836.8,1169.3 L833.1,1168.3 L829.5,1167.1 L826.0,1165.8 L822.6,1164.2 L819.4,1162.5 L816.4,1160.6 L813.6,1158.6 L810.9,1156.3 L808.5,1153.8 L806.4,1151.2 L804.5,1148.3 L802.8,1145.3 L801.5,1142.0" stroke="#1f1e1d" stroke-width="28.5"/>
<path d="M805.0,876.0 L807.1,873.5 L809.2,871.1 L811.2,868.7 L813.2,866.3 L815.1,864.0 L817.1,861.7 L819.0,859.5 L821.0,857.4 L822.9,855.4 L824.9,853.4 L826.9,851.6 L828.9,849.8 L830.9,848.2 L833.0,846.6 L835.2,845.2 L837.4,843.9 L839.6,842.7 L842.0,841.7 L844.4,840.8 L846.9,840.0 L849.5,839.4 L852.2,839.0 L855.1,838.7 L858.0,838.6 L863.4,839.0 L868.9,839.5 L874.3,840.1 L879.6,841.0 L885.0,842.0 L890.3,843.2 L895.6,844.5 L900.8,846.1 L906.0,847.8 L911.1,849.6 L916.1,851.7 L921.1,853.9 L926.0,856.2 L930.8,858.8 L935.6,861.4 L940.2,864.2 L944.8,867.2 L949.3,870.3 L953.6,873.6 L957.9,877.0 L962.0,880.6 L966.0,884.2 L969.9,888.0 L973.7,892.0 L977.3,896.0 L980.8,900.2 L984.2,904.4 L987.4,908.8 L990.5,913.3 L993.5,917.9 L996.2,922.6 L998.9,927.3 L1001.4,932.2 L1003.7,937.1 L1005.8,942.1 L1007.8,947.2 L1009.7,952.3 L1011.3,957.5 L1012.8,962.7 L1014.1,968.0 L1015.3,973.3 L1016.3,978.7 L1017.1,984.1 L1017.7,989.5 L1018.1,994.9 L1018.4,1000.3 L1018.5,1005.8 L1018.4,1011.2 L1018.2,1016.7 L1017.7,1022.1 L1017.1,1027.5 L1016.3,1032.9 L1015.4,1038.2 L1014.2,1043.6 L1012.9,1048.8 L1011.4,1054.1 L1009.8,1059.3 L1008.0,1064.4 L1006.0,1069.5 L1003.9,1074.5 L1001.6,1079.4 L999.1,1084.3 L996.5,1089.0 L993.7,1093.7 L990.8,1098.3 L987.7,1102.8 L984.5,1107.2 L981.1,1111.5 L977.6,1115.7 L974.0,1119.7 L970.2,1123.6 L966.3,1127.5 L962.3,1131.1 L958.2,1134.7 L954.0,1138.1 L949.6,1141.4 L945.2,1144.5 L940.6,1147.5 L936.0,1150.3 L931.2,1153.0 L926.4,1155.6 L921.5,1157.9 L916.5,1160.1 L911.5,1162.2 L906.4,1164.1 L901.2,1165.8 L896.0,1167.3 L890.7,1168.7 L885.4,1169.9 L880.1,1171.0 L876.3,1171.5 L872.4,1171.9 L868.5,1172.1 L864.5,1172.3 L860.5,1172.3 L856.5,1172.1 L852.4,1171.9 L848.5,1171.5 L844.5,1170.9 L840.6,1170.2 L836.8,1169.3 L833.1,1168.3 L829.5,1167.1 L826.0,1165.8 L822.6,1164.2 L819.4,1162.5 L816.4,1160.6 L813.6,1158.6 L810.9,1156.3 L808.5,1153.8 L806.4,1151.2 L804.5,1148.3 L802.8,1145.3 L801.5,1142.0" stroke="url(#ringg)" stroke-width="25.5"/>
<path d="M811.3,881.4 L813.4,878.9 L815.5,876.4 L817.5,874.0 L819.5,871.6 L821.4,869.4 L823.3,867.2 L825.2,865.1 L827.0,863.1 L828.8,861.2 L830.6,859.4 L832.4,857.7 L834.2,856.2 L836.0,854.7 L837.8,853.4 L839.6,852.2 L841.4,851.1 L843.2,850.2 L845.1,849.4 L847.0,848.6 L849.0,848.1 L851.1,847.6 L853.3,847.2 L855.6,847.0 L857.8,846.9 L862.8,847.2 L868.0,847.7 L873.1,848.3 L878.2,849.1 L883.3,850.1 L888.4,851.2 L893.4,852.5 L898.3,854.0 L903.2,855.6 L908.1,857.4 L912.9,859.3 L917.6,861.4 L922.3,863.7 L926.9,866.0 L931.4,868.6 L935.8,871.3 L940.1,874.1 L944.4,877.1 L948.5,880.2 L952.6,883.4 L956.5,886.8 L960.3,890.3 L964.0,893.9 L967.6,897.6 L971.1,901.5 L974.4,905.4 L977.6,909.5 L980.7,913.6 L983.6,917.9 L986.4,922.3 L989.0,926.7 L991.5,931.2 L993.9,935.8 L996.1,940.5 L998.2,945.3 L1000.1,950.1 L1001.8,955.0 L1003.4,959.9 L1004.8,964.9 L1006.0,969.9 L1007.1,974.9 L1008.1,980.0 L1008.8,985.1 L1009.4,990.3 L1009.8,995.4 L1010.1,1000.6 L1010.2,1005.8 L1010.1,1011.0 L1009.9,1016.1 L1009.5,1021.3 L1008.9,1026.4 L1008.1,1031.5 L1007.2,1036.6 L1006.1,1041.7 L1004.9,1046.7 L1003.5,1051.7 L1001.9,1056.6 L1000.2,1061.5 L998.3,1066.3 L996.3,1071.1 L994.1,1075.8 L991.8,1080.4 L989.3,1084.9 L986.6,1089.4 L983.8,1093.7 L980.9,1098.0 L977.9,1102.2 L974.7,1106.3 L971.3,1110.2 L967.9,1114.1 L964.3,1117.8 L960.6,1121.4 L956.8,1124.9 L952.9,1128.3 L948.9,1131.6 L944.7,1134.7 L940.5,1137.7 L936.2,1140.5 L931.8,1143.2 L927.3,1145.7 L922.7,1148.1 L918.0,1150.4 L913.3,1152.5 L908.5,1154.5 L903.6,1156.2 L898.7,1157.9 L893.8,1159.3 L888.8,1160.7 L883.7,1161.8 L878.7,1162.8 L875.3,1163.2 L871.7,1163.6 L868.0,1163.8 L864.3,1164.0 L860.6,1164.0 L856.9,1163.9 L853.1,1163.6 L849.5,1163.2 L845.8,1162.7 L842.3,1162.1 L838.8,1161.3 L835.5,1160.4 L832.3,1159.3 L829.2,1158.1 L826.3,1156.8 L823.6,1155.3 L821.0,1153.8 L818.7,1152.1 L816.6,1150.2 L814.7,1148.3 L813.0,1146.3 L811.6,1144.1 L810.4,1141.7 L809.2,1138.9" stroke="url(#ringin)" stroke-width="9"/>
<path d="M806.7,877.4 L808.8,874.9 L810.8,872.5 L812.9,870.1 L814.8,867.7 L816.8,865.4 L818.7,863.2 L820.7,861.0 L822.6,858.9 L824.5,856.9 L826.4,855.0 L828.3,853.2 L830.3,851.5 L832.3,849.9 L834.3,848.4 L836.3,847.1 L838.4,845.8 L840.6,844.7 L842.8,843.7 L845.1,842.9 L847.5,842.2 L849.9,841.6 L852.5,841.2 L855.2,840.9 L857.9,840.8 L863.3,841.2 L868.6,841.6 L874.0,842.3 L879.3,843.1 L884.5,844.1 L889.8,845.3 L895.0,846.7 L900.1,848.2 L905.2,849.9 L910.3,851.7 L915.3,853.7 L920.2,855.9 L925.0,858.2 L929.8,860.7 L934.5,863.3 L939.1,866.1 L943.6,869.0 L948.0,872.1 L952.3,875.3 L956.5,878.7 L960.5,882.2 L964.5,885.8 L968.3,889.6 L972.1,893.5 L975.7,897.4 L979.1,901.6 L982.5,905.8 L985.6,910.1 L988.7,914.5 L991.6,919.0 L994.3,923.7 L996.9,928.4 L999.4,933.1 L1001.7,938.0 L1003.8,942.9 L1005.8,947.9 L1007.6,953.0 L1009.2,958.1 L1010.7,963.3 L1012.0,968.5 L1013.1,973.7 L1014.1,979.0 L1014.9,984.3 L1015.5,989.7 L1015.9,995.0 L1016.2,1000.4 L1016.3,1005.8 L1016.2,1011.1 L1016.0,1016.5 L1015.5,1021.9 L1014.9,1027.2 L1014.2,1032.5 L1013.2,1037.8 L1012.1,1043.1 L1010.8,1048.3 L1009.3,1053.5 L1007.7,1058.6 L1005.9,1063.6 L1004.0,1068.6 L1001.9,1073.6 L999.6,1078.4 L997.1,1083.2 L994.6,1087.9 L991.8,1092.6 L988.9,1097.1 L985.9,1101.5 L982.7,1105.9 L979.4,1110.1 L976.0,1114.2 L972.4,1118.2 L968.7,1122.1 L964.8,1125.9 L960.9,1129.5 L956.8,1133.0 L952.6,1136.4 L948.3,1139.6 L943.9,1142.7 L939.4,1145.6 L934.9,1148.4 L930.2,1151.1 L925.4,1153.6 L920.6,1155.9 L915.7,1158.1 L910.7,1160.1 L905.7,1162.0 L900.6,1163.7 L895.4,1165.2 L890.2,1166.6 L885.0,1167.8 L879.7,1168.8 L876.0,1169.3 L872.2,1169.7 L868.3,1169.9 L864.4,1170.1 L860.5,1170.1 L856.6,1169.9 L852.6,1169.7 L848.7,1169.3 L844.9,1168.7 L841.1,1168.0 L837.3,1167.2 L833.7,1166.2 L830.2,1165.0 L826.8,1163.7 L823.6,1162.3 L820.5,1160.6 L817.6,1158.8 L814.9,1156.8 L812.4,1154.7 L810.2,1152.4 L808.1,1149.9 L806.4,1147.2 L804.8,1144.3 L803.5,1141.2" stroke="url(#ringl)" stroke-width="3.4"/>
<path d="M803.9,875.1 L806.0,872.6 L808.1,870.2 L810.1,867.8 L812.1,865.4 L814.1,863.1 L816.0,860.8 L818.0,858.6 L819.9,856.5 L821.9,854.4 L823.9,852.4 L825.9,850.5 L828.0,848.8 L830.1,847.1 L832.2,845.5 L834.4,844.0 L836.7,842.7 L839.0,841.4 L841.5,840.4 L844.0,839.4 L846.6,838.7 L849.3,838.1 L852.1,837.6 L855.0,837.3 L858.0,837.2 L863.5,837.6 L869.0,838.1 L874.5,838.7 L879.9,839.6 L885.3,840.6 L890.6,841.8 L895.9,843.2 L901.2,844.7 L906.4,846.5 L911.6,848.3 L916.7,850.4 L921.7,852.6 L926.6,855.0 L931.5,857.5 L936.3,860.2 L941.0,863.1 L945.6,866.1 L950.1,869.2 L954.5,872.5 L958.8,875.9 L962.9,879.5 L967.0,883.2 L970.9,887.0 L974.7,891.0 L978.4,895.1 L981.9,899.3 L985.3,903.6 L988.6,908.0 L991.7,912.5 L994.6,917.2 L997.5,921.9 L1000.1,926.7 L1002.6,931.6 L1005.0,936.5 L1007.1,941.6 L1009.1,946.7 L1011.0,951.8 L1012.7,957.1 L1014.2,962.4 L1015.5,967.7 L1016.7,973.0 L1017.6,978.4 L1018.4,983.9 L1019.1,989.3 L1019.5,994.8 L1019.8,1000.3 L1019.9,1005.8 L1019.8,1011.3 L1019.6,1016.7 L1019.1,1022.2 L1018.5,1027.7 L1017.7,1033.1 L1016.7,1038.5 L1015.6,1043.9 L1014.3,1049.2 L1012.8,1054.5 L1011.1,1059.7 L1009.3,1064.9 L1007.3,1070.0 L1005.1,1075.1 L1002.8,1080.0 L1000.3,1084.9 L997.7,1089.7 L994.9,1094.5 L991.9,1099.1 L988.8,1103.6 L985.6,1108.0 L982.2,1112.4 L978.7,1116.6 L975.0,1120.7 L971.2,1124.6 L967.3,1128.5 L963.3,1132.2 L959.1,1135.8 L954.8,1139.2 L950.4,1142.5 L946.0,1145.7 L941.4,1148.7 L936.7,1151.6 L931.9,1154.3 L927.0,1156.8 L922.1,1159.2 L917.1,1161.4 L912.0,1163.5 L906.9,1165.4 L901.6,1167.1 L896.4,1168.7 L891.1,1170.1 L885.7,1171.3 L880.3,1172.3 L876.4,1172.9 L872.5,1173.3 L868.5,1173.5 L864.5,1173.7 L860.4,1173.7 L856.4,1173.5 L852.3,1173.3 L848.3,1172.9 L844.3,1172.3 L840.3,1171.6 L836.5,1170.7 L832.7,1169.6 L829.0,1168.4 L825.4,1167.0 L822.0,1165.5 L818.7,1163.7 L815.6,1161.8 L812.7,1159.7 L810.0,1157.3 L807.5,1154.8 L805.2,1152.0 L803.3,1149.0 L801.6,1145.9 L800.2,1142.5" stroke="#56514f" stroke-width="3.4"/>
<path d="M801.0,872.6 L803.1,870.2 L805.2,867.7 L807.2,865.3 L809.2,862.9 L811.2,860.6 L813.2,858.3 L815.2,856.1 L817.2,853.9 L819.2,851.7 L821.3,849.7 L823.4,847.7 L825.5,845.8 L827.7,844.1 L830.0,842.4 L832.4,840.8 L834.8,839.3 L837.4,838.0 L840.0,836.9 L842.8,835.8 L845.6,835.0 L848.5,834.3 L851.6,833.8 L854.7,833.5 L858.1,833.4 L863.8,833.8 L869.4,834.3 L875.0,835.0 L880.5,835.8 L886.0,836.9 L891.5,838.1 L897.0,839.5 L902.3,841.1 L907.7,842.9 L912.9,844.8 L918.1,846.9 L923.3,849.2 L928.3,851.6 L933.3,854.2 L938.2,856.9 L943.0,859.8 L947.7,862.9 L952.3,866.1 L956.8,869.5 L961.2,873.0 L965.4,876.7 L969.6,880.4 L973.6,884.4 L977.5,888.4 L981.2,892.6 L984.9,896.9 L988.3,901.3 L991.7,905.8 L994.8,910.4 L997.9,915.2 L1000.8,920.0 L1003.5,924.9 L1006.0,929.9 L1008.4,935.0 L1010.6,940.1 L1012.7,945.3 L1014.6,950.6 L1016.3,956.0 L1017.8,961.4 L1019.2,966.8 L1020.4,972.3 L1021.4,977.8 L1022.2,983.4 L1022.9,989.0 L1023.3,994.5 L1023.6,1000.2 L1023.7,1005.8 L1023.6,1011.4 L1023.4,1017.0 L1022.9,1022.6 L1022.3,1028.2 L1021.5,1033.7 L1020.5,1039.2 L1019.3,1044.7 L1018.0,1050.2 L1016.4,1055.6 L1014.7,1060.9 L1012.9,1066.2 L1010.8,1071.4 L1008.6,1076.6 L1006.2,1081.7 L1003.7,1086.7 L1001.0,1091.6 L998.1,1096.4 L995.1,1101.2 L991.9,1105.8 L988.6,1110.3 L985.2,1114.8 L981.6,1119.1 L977.8,1123.2 L973.9,1127.3 L969.9,1131.2 L965.8,1135.0 L961.5,1138.7 L957.2,1142.2 L952.7,1145.6 L948.1,1148.8 L943.4,1151.9 L938.6,1154.8 L933.7,1157.6 L928.8,1160.2 L923.7,1162.6 L918.6,1164.9 L913.4,1167.0 L908.1,1169.0 L902.8,1170.8 L897.4,1172.3 L892.0,1173.8 L886.5,1175.0 L881.0,1176.1 L876.9,1176.6 L872.8,1177.0 L868.7,1177.3 L864.6,1177.5 L860.4,1177.5 L856.2,1177.3 L852.0,1177.1 L847.8,1176.6 L843.7,1176.0 L839.6,1175.3 L835.5,1174.4 L831.6,1173.3 L827.7,1172.0 L823.9,1170.5 L820.3,1168.9 L816.8,1167.0 L813.5,1164.9 L810.3,1162.6 L807.4,1160.1 L804.7,1157.3 L802.2,1154.3 L800.0,1151.0 L798.1,1147.5 L796.7,1144.0" stroke="#f0f0ee" stroke-width="3.6"/>
</g>

<!-- slide -->
<path d="M1652,905 V878 C1652,852 1672,840.5 1697,840.5 C1718,840.5 1727,851 1735,856 C1743,850 1752,838.5 1773,838.5 C1800,838.5 1820,852 1820,880 V1130 C1820,1158 1800,1170.5 1774,1170.5 C1754,1170.5 1746,1162 1738,1157 C1730,1162 1722,1170.5 1700,1170.5 C1674,1170.5 1652,1158 1652,1130 Z M1673.5,884 Q1673.5,872 1686,872 H1784 Q1797,872 1797,884 V1128 Q1797,1140 1784,1140 H1686 Q1673.5,1140 1673.5,1128 Z" fill="#232324" fill-rule="evenodd"/>
<g fill="none" stroke-linecap="round">
<path d="M1660.5,1120 V884 C1660.5,860 1678,850 1697,850 C1715,850 1725,861 1735,867 C1745,860 1754,848 1773,848 C1795,848 1810,861 1810,884 V1125" stroke="#505052" stroke-width="2.2" opacity=".85"/>
<path d="M1660.5,1120 C1660.5,1150 1680,1161 1700,1161 C1718,1161 1728,1151 1738,1146.5 C1747,1151 1756,1161 1774,1161 C1796,1161 1810,1150 1810,1125" stroke="#505052" stroke-width="2.2" opacity=".85"/>
<path d="M1668,1118 V888 C1668,868 1682,858 1698,858 C1712,858 1722,866 1730,871 M1741,871 C1750,865 1758,856 1773,856 C1790,856 1802.5,868 1802.5,888 V1122" stroke="#454547" stroke-width="1.8" opacity=".8"/>
<path d="M1668,1118 C1668,1144 1684,1153 1700,1153 C1714,1153 1724,1146 1732,1141 M1744,1141 C1752,1146 1760,1153 1774,1153 C1792,1153 1802.5,1143 1802.5,1122" stroke="#454547" stroke-width="1.8" opacity=".8"/>
<path d="M1654.5,1118 V886 M1817.5,1120 V888" stroke="#141415" stroke-width="3" opacity=".7"/>
</g>
<path d="M1684,868 C1688,864 1694,863 1698,864 L1697,867.5 C1692,867 1688,868 1685,869.5 Z" fill="#d8d8d8"/>

</svg>
</body></html>
